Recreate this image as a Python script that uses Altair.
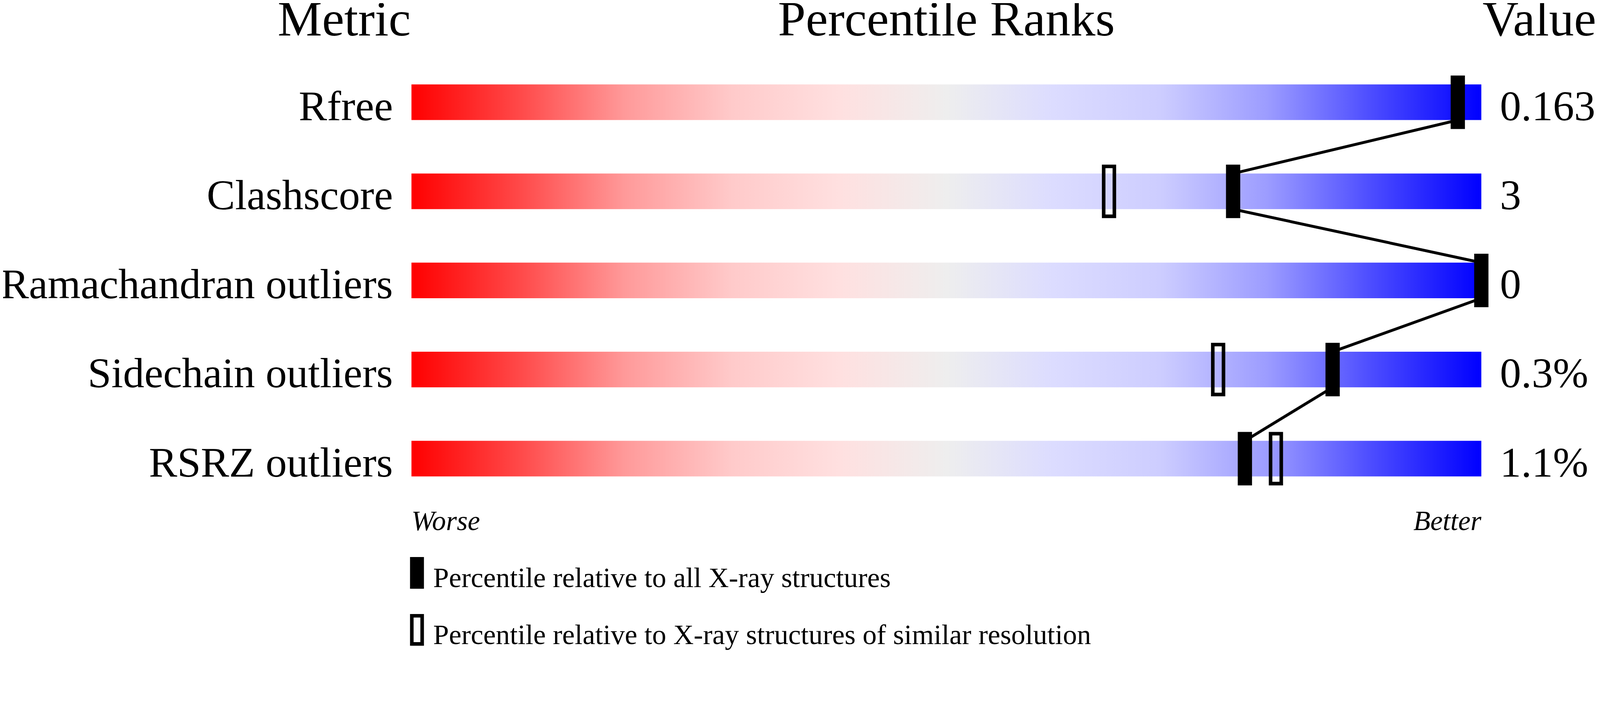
import altair as alt
import pandas as pd

metrics = ["Rfree", "Clashscore", "Ramachandran outliers", "Sidechain outliers", "RSRZ outliers"]
value_labels = ["0.163", "3", "0", "0.3%", "1.1%"]
pct_all = [97.8, 76.8, 100.0, 86.1, 77.9]          # percentile vs all X-ray structures
pct_res = [None, 65.2, None, 75.4, 80.8]           # percentile vs similar resolution
headers = ["Metric", "Percentile Ranks", "Value"]
ends = ["Worse", "Better"]
legend_labels = ["Percentile relative to all X-ray structures",
                 "Percentile relative to X-ray structures of similar resolution"]

FONT = "Liberation Serif"
W, H = 4469, 1808
SHIFT = -86   # vertical correction observed in the rendered page

bars = pd.DataFrame({"metric": metrics, "lo": [0] * len(metrics), "hi": [100] * len(metrics),
                     "value": value_labels})
black = pd.DataFrame({"metric": metrics, "pct": pct_all})
hollow = pd.DataFrame({"metric": metrics, "pct": pct_res}).dropna()
links = pd.DataFrame({
    "metric": metrics[:-1], "next": metrics[1:],
    "x": pct_all[:-1], "x2": pct_all[1:],
})

xs = alt.Scale(domain=[0, 100], range=[1145, 4145], nice=False, zero=False)
ys = alt.Scale(domain=metrics, range=[153 + SHIFT, 1403 + SHIFT], paddingInner=0.6, paddingOuter=0.3)

stops = [(0.0, "#ff0000"), (0.1, "#ff4848"), (0.2, "#ff9a9a"), (0.3, "#ffcaca"),
         (0.4, "#ffe0e0"), (0.5, "#eeeeee"), (0.6, "#dcdcff"), (0.7, "#cdcdff"),
         (0.8, "#9c9cff"), (0.9, "#4a4aff"), (1.0, "#0000ff")]
grad = alt.LinearGradient(gradient="linear", x1=0, x2=1, y1=0, y2=0,
                          stops=[alt.GradientStop(offset=o, color=c) for o, c in stops])

bar_layer = alt.Chart(bars).mark_rect(color=grad).encode(
    x=alt.X("lo:Q", scale=xs, axis=None),
    x2="hi:Q",
    y=alt.Y("metric:N", scale=ys, axis=None),
)

hollow_layer = alt.Chart(hollow).mark_tick(
    filled=False, stroke="black", strokeWidth=10, thickness=30, size=140, opacity=1
).encode(
    x=alt.X("pct:Q", scale=xs),
    y=alt.Y("metric:N", scale=ys),
)

link_layer = alt.Chart(links).mark_rule(color="black", strokeWidth=8, yOffset=50, y2Offset=-50).encode(
    x=alt.X("x:Q", scale=xs),
    x2="x2:Q",
    y=alt.Y("metric:N", scale=ys),
    y2="next:N",
)

black_layer = alt.Chart(black).mark_tick(
    color="black", thickness=40, size=150, opacity=1
).encode(
    x=alt.X("pct:Q", scale=xs),
    y=alt.Y("metric:N", scale=ys),
)

label_layer = alt.Chart(bars).mark_text(
    font=FONT, fontSize=119, align="right", baseline="alphabetic", dx=-52, dy=50, color="black"
).encode(
    x=alt.datum(0, scale=xs),
    y=alt.Y("metric:N", scale=ys),
    text="metric:N",
)

value_layer = alt.Chart(bars).mark_text(
    font=FONT, fontSize=119, align="left", baseline="alphabetic", dx=52, dy=50, color="black"
).encode(
    x=alt.datum(100, scale=xs),
    y=alt.Y("metric:N", scale=ys),
    text="value:N",
)

def header(txt, xpos, align, dx):
    return alt.Chart(pd.DataFrame({"t": [txt]})).mark_text(
        font=FONT, fontSize=140, align=align, baseline="alphabetic", dx=dx, color="black"
    ).encode(x=alt.datum(xpos, scale=xs), y=alt.value(91 + SHIFT), text="t:N")

h1 = header(headers[0], 0, "right", -2)
h2 = header(headers[1], 50, "center", 0)
h3 = header(headers[2], 100, "right", 322)

def end_text(txt, xpos, align):
    return alt.Chart(pd.DataFrame({"t": [txt]})).mark_text(
        font=FONT, fontSize=78, fontStyle="italic", align=align, baseline="alphabetic", color="black"
    ).encode(x=alt.datum(xpos, scale=xs), y=alt.value(1479 + SHIFT), text="t:N")

w = end_text(ends[0], 0, "left")
b = end_text(ends[1], 100, "right")

leg_black = alt.Chart(pd.DataFrame({"k": [0]})).mark_tick(
    color="black", thickness=39, size=89, xOffset=15.5, opacity=1, orient="vertical"
).encode(x=alt.datum(0, scale=xs), y=alt.value(1598.5 + SHIFT))
leg_hollow = alt.Chart(pd.DataFrame({"k": [0]})).mark_tick(
    filled=False, stroke="black", strokeWidth=10, thickness=29, size=79, xOffset=15.5,
    opacity=1, orient="vertical"
).encode(x=alt.datum(0, scale=xs), y=alt.value(1758.5 + SHIFT))

def leg_text(txt, ypos):
    return alt.Chart(pd.DataFrame({"t": [txt]})).mark_text(
        font=FONT, fontSize=79, align="left", baseline="alphabetic", dx=61, color="black"
    ).encode(x=alt.datum(0, scale=xs), y=alt.value(ypos + SHIFT), text="t:N")

lt1 = leg_text(legend_labels[0], 1638)
lt2 = leg_text(legend_labels[1], 1798)

chart = alt.layer(
    bar_layer, hollow_layer, link_layer, black_layer, label_layer, value_layer,
    h1, h2, h3, w, b, leg_black, leg_hollow, lt1, lt2
).properties(
    width=W, height=H,
    padding=0,
    autosize=alt.AutoSizeParams(type="none"),
    background="white",
).configure_view(stroke=None)

chart.save("out.html", embed_options={"renderer": "svg", "actions": False})
